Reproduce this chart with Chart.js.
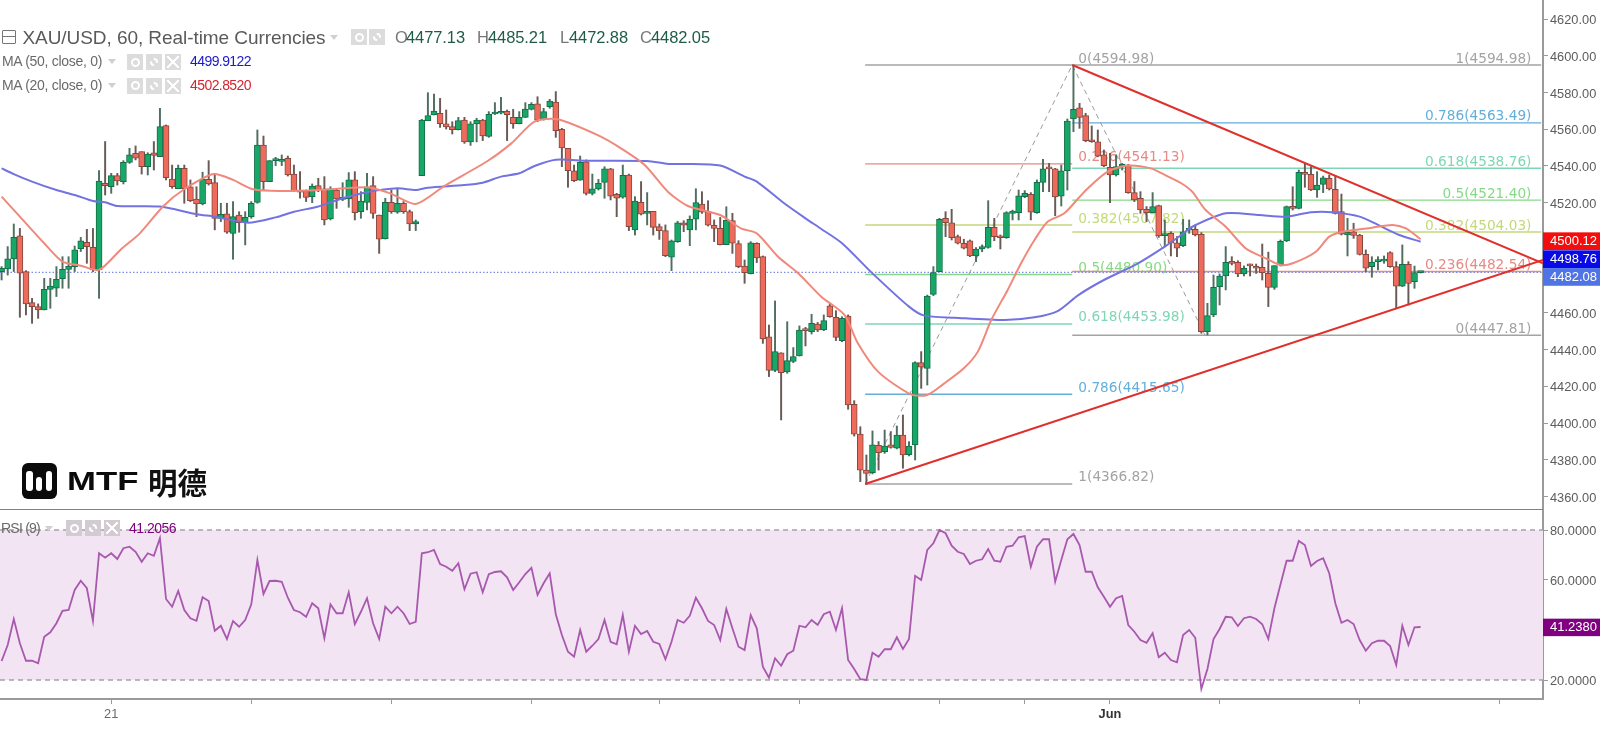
<!DOCTYPE html>
<html><head><meta charset="utf-8">
<style>
html,body{margin:0;padding:0;background:#fff;width:1600px;height:734px;overflow:hidden}
canvas{position:absolute;left:0;filter:blur(0.4px)}
.t{position:absolute;white-space:nowrap;line-height:1;transform:translateY(-50%)}
.b{position:absolute}
</style>
<script src="https://cdn.jsdelivr.net/npm/chart.js@4"></script>
</head><body>
<canvas id="main" width="1600" height="509" style="top:0"></canvas>
<canvas id="rsi" width="1600" height="225" style="top:509px"></canvas>
<script>
const opens=[4482.5,4483.9,4489.4,4501.9,4482.5,4465.6,4463.4,4461.6,4472.8,4473.4,4478.6,4483.7,4485.2,4495.0,4498.4,4495.7,4483.4,4530.6,4528.7,4534.7,4531.5,4542.0,4546.9,4547.8,4539.6,4547.2,4545.1,4562.0,4532.9,4527.6,4538.7,4528.7,4522.0,4519.3,4532.7,4530.9,4511.5,4513.9,4503.3,4513.3,4509.3,4512.4,4520.2,4551.4,4531.5,4542.9,4542.5,4544.2,4535.6,4526.4,4526.4,4523.3,4529.3,4527.5,4511.1,4526.9,4521.8,4522.0,4532.4,4515.1,4520.2,4529.3,4513.3,4500.4,4520.2,4514.8,4519.7,4515.1,4508.4,
4534.7,4564.7,4567.8,4568.7,4563.0,4561.4,4559.8,4565.0,4553.1,4562.9,4565.0,4556.1,4568.3,4568.7,4569.8,4566.5,4563.0,4566.5,4570.8,4573.8,4565.4,4572.3,4574.8,4560.0,4549.6,4537.4,4532.2,4542.3,4525.1,4527.5,4531.1,4538.5,4524.6,4523.0,4535.1,4505.2,4520.2,4514.2,4515.3,4507.0,4504.8,4490.4,4498.8,4509.1,4505.2,4511.0,4519.3,4515.3,4507.7,4506.0,4497.2,4510.2,4497.7,4485.5,4481.4,4497.9,4490.6,4446.9,4428.6,4438.3,4427.8,4433.5,4436.5,4451.0,4449.8,4453.9,4450.7,4463.8,4457.6,
4444.9,4458.3,4410.2,4394.0,4374.4,4373.0,4387.9,4384.4,4388.1,4386.3,4393.5,4382.8,4388.1,4432.9,4429.8,4470.1,4482.4,4511.5,4509.1,4501.5,4497.9,4499.3,4491.0,4494.8,4495.7,4506.6,4501.8,4500.9,4514.2,4514.6,4523.3,4524.5,4514.6,4531.1,4539.1,4538.4,4523.6,4537.4,4565.6,4571.6,4567.4,4553.8,4553.2,4546.0,4539.3,4535.1,4539.8,4540.5,4525.5,4522.4,4516.4,4514.6,4518.4,4502.1,4503.3,4498.2,
4496.6,4505.0,4505.5,4502.8,4449.8,4458.9,4474.3,4480.1,4487.7,4487.5,4481.2,4486.1,4485.2,4484.8,4481.5,4473.9,4486.1,4499.2,4517.9,4516.9,4536.0,4535.4,4526.9,4530.0,4533.3,4527.3,4515.1,4502.4,4504.2,4502.4,4491.9,4485.2,4487.9,4488.2,4492.8,4485.2,4474.6,4486.4,4477.0,4481.9];
const highs=[4485.2,4496.1,4508.4,4506.0,4483.0,4467.9,4464.9,4478.8,4478.8,4485.2,4490.6,4490.6,4496.4,4501.1,4505.5,4506.0,4537.5,4553.3,4536.0,4536.0,4542.9,4549.6,4550.9,4547.8,4547.2,4553.3,4571.4,4562.3,4540.5,4540.5,4540.5,4532.4,4528.7,4536.6,4542.9,4535.6,4519.7,4519.7,4520.6,4515.1,4515.1,4520.6,4559.6,4556.3,4542.9,4544.7,4546.0,4545.4,4540.5,4536.9,4526.9,4530.2,4533.3,4534.2,4528.7,4527.8,4530.9,4536.4,4536.9,4526.0,4536.0,4534.2,4513.3,4522.4,4526.9,4527.8,4520.6,4516.0,4510.6,
4565.4,4579.9,4579.2,4576.8,4570.5,4564.1,4566.5,4566.5,4564.1,4566.0,4565.4,4569.6,4574.5,4577.4,4570.5,4570.8,4569.6,4574.5,4574.5,4577.7,4571.4,4576.3,4580.5,4560.5,4549.6,4540.5,4545.4,4543.3,4535.6,4532.7,4539.6,4538.7,4525.1,4540.5,4535.6,4523.3,4531.5,4525.5,4515.3,4508.4,4507.9,4499.7,4509.9,4510.2,4512.8,4527.6,4526.0,4521.1,4510.6,4512.0,4517.8,4514.2,4499.3,4488.8,4498.8,4498.2,4491.0,4453.4,4466.5,4438.3,4455.2,4441.1,4452.9,4452.1,4459.2,4454.8,4458.9,4465.2,4461.2,
4457.9,4458.9,4412.2,4398.0,4382.6,4395.7,4389.9,4396.2,4395.3,4398.4,4404.4,4389.9,4433.4,4438.9,4469.7,4485.2,4511.5,4515.1,4516.4,4502.4,4500.1,4499.7,4495.5,4497.0,4521.1,4511.5,4502.4,4515.1,4516.0,4526.9,4526.6,4525.5,4532.4,4543.6,4541.4,4538.7,4540.5,4565.6,4595.0,4574.1,4568.7,4561.8,4559.6,4548.7,4546.9,4546.0,4541.4,4540.9,4531.5,4526.0,4517.9,4525.5,4518.7,4510.6,4504.2,4501.5,
4510.9,4510.6,4507.9,4503.7,4465.2,4480.6,4481.2,4496.1,4490.6,4488.4,4485.6,4486.6,4486.6,4497.5,4493.1,4485.7,4499.7,4518.2,4528.7,4537.8,4541.4,4539.6,4536.9,4534.5,4535.1,4534.5,4524.7,4511.5,4508.8,4502.8,4494.3,4490.6,4490.6,4491.0,4493.3,4487.9,4497.0,4487.9,4485.5,4482.5];
const lows=[4477.9,4480.6,4482.5,4457.6,4458.9,4454.3,4457.0,4461.6,4462.5,4468.9,4473.4,4473.4,4482.5,4493.4,4487.0,4482.5,4467.9,4524.2,4525.1,4529.6,4530.2,4541.4,4543.3,4535.6,4535.1,4537.8,4545.1,4532.4,4527.8,4527.6,4519.7,4520.6,4512.4,4518.8,4529.6,4505.2,4509.7,4503.3,4489.2,4503.9,4497.0,4511.5,4519.7,4526.9,4531.5,4540.2,4540.2,4534.5,4526.0,4522.4,4520.6,4520.0,4526.0,4507.9,4510.6,4516.9,4521.1,4517.5,4510.6,4511.5,4516.0,4511.5,4492.4,4500.2,4514.2,4514.2,4514.2,4504.8,4504.8,
4534.7,4564.7,4567.8,4561.0,4560.1,4557.4,4559.6,4552.3,4551.2,4553.1,4553.8,4555.6,4568.0,4568.3,4553.8,4560.5,4562.9,4566.3,4570.5,4564.1,4565.0,4571.4,4555.6,4539.6,4528.4,4531.5,4532.2,4524.2,4524.2,4526.9,4522.4,4521.5,4512.4,4522.4,4504.8,4502.4,4513.3,4507.9,4502.4,4500.0,4490.6,4483.0,4498.4,4504.2,4496.6,4505.2,4514.2,4507.3,4498.8,4497.0,4497.2,4492.4,4484.6,4476.1,4481.2,4487.4,4443.4,4425.3,4428.0,4401.7,4427.1,4432.9,4436.5,4442.0,4448.5,4449.8,4450.3,4457.6,4444.9,
4444.3,4407.5,4392.9,4368.1,4366.7,4372.3,4374.4,4383.5,4386.3,4385.9,4375.4,4382.1,4379.9,4418.9,4420.7,4469.4,4482.4,4501.5,4499.7,4497.5,4494.8,4490.6,4487.9,4493.3,4495.2,4499.3,4494.8,4500.6,4510.6,4510.6,4522.7,4510.6,4514.2,4526.0,4526.0,4512.9,4518.2,4526.9,4558.7,4560.5,4553.2,4552.9,4545.0,4539.6,4520.0,4534.5,4537.8,4525.1,4520.6,4514.2,4509.7,4514.6,4501.1,4496.1,4491.0,4490.6,
4496.1,4503.3,4501.9,4448.9,4448.0,4457.9,4464.3,4472.5,4486.1,4479.7,4480.1,4480.1,4481.5,4477.9,4463.4,4472.8,4485.5,4498.8,4516.0,4516.6,4528.4,4526.6,4522.9,4525.5,4526.9,4513.8,4502.4,4491.0,4500.6,4491.5,4482.5,4479.4,4483.4,4487.0,4484.8,4462.5,4474.3,4464.3,4473.4,4481.7];
const closes=[4484.3,4489.4,4501.1,4481.6,4464.9,4463.4,4461.6,4472.8,4474.6,4478.3,4483.7,4485.5,4494.3,4499.3,4496.1,4483.4,4531.8,4529.3,4534.7,4531.8,4542.0,4546.0,4544.2,4539.6,4546.5,4545.8,4561.4,4533.6,4528.7,4538.7,4527.6,4521.1,4519.3,4532.9,4530.2,4511.5,4513.7,4503.9,4512.4,4509.1,4512.0,4519.7,4551.4,4531.5,4542.9,4543.6,4543.3,4535.1,4526.6,4525.7,4522.9,4529.1,4526.9,4510.6,4527.5,4522.0,4522.6,4532.4,4514.6,4520.9,4528.7,4514.2,4500.2,4520.2,4515.1,4519.7,4515.1,4508.4,4509.7,
4565.0,4567.4,4569.9,4563.0,4561.2,4559.8,4564.7,4553.1,4562.9,4565.0,4556.3,4568.1,4569.0,4569.4,4568.0,4563.0,4566.5,4571.0,4573.6,4565.0,4569.6,4575.4,4559.2,4549.8,4537.4,4532.0,4542.0,4525.1,4527.5,4530.6,4538.5,4523.6,4522.4,4534.9,4507.0,4520.9,4513.8,4514.9,4506.6,4504.8,4491.2,4499.2,4509.1,4507.7,4511.0,4520.0,4514.8,4507.7,4506.0,4497.2,4510.4,4497.9,4485.2,4481.9,4498.2,4489.9,4445.8,4428.6,4438.9,4427.5,4434.0,4436.2,4450.7,4450.3,4454.3,4450.7,4455.8,4458.0,4446.7,
4457.0,4409.9,4394.0,4374.4,4372.6,4388.1,4383.9,4387.5,4386.8,4393.5,4382.6,4387.5,4432.9,4430.4,4469.2,4481.9,4510.9,4509.1,4500.9,4497.9,4495.3,4491.0,4494.8,4496.1,4506.6,4501.5,4500.9,4514.6,4515.5,4523.8,4525.1,4514.9,4531.1,4538.4,4538.4,4523.1,4537.4,4564.5,4570.8,4566.5,4553.8,4553.2,4545.4,4540.2,4535.1,4539.6,4540.4,4525.5,4521.5,4516.0,4514.6,4517.9,4501.9,4502.8,4497.9,4495.2,
4504.2,4506.0,4502.4,4449.8,4458.5,4473.9,4480.1,4487.5,4487.0,4481.2,4484.3,4485.6,4484.3,4481.9,4473.9,4485.7,4499.0,4517.9,4516.9,4536.5,4535.4,4526.9,4529.6,4533.6,4527.5,4514.2,4502.8,4503.9,4502.2,4491.9,4484.3,4487.7,4488.2,4488.6,4485.2,4474.6,4486.4,4476.1,4481.9,4482.08];
const ma50Index=[0,2,5,9,12,15,17,19,26,32,35,40.5,45,48,52,56,60,65,68,70,76,79,82,85,87.5,91,96,106,109.5,112,118,122,124,128.5,132,134.6,138,143,149,151.5,156.5,164.7,169.6,173.4,176.8,181,186.6,191,193.7,195.5,201,206.5,211,215,218.5,223,226,229.5,233];
const ma50Values=[4538.7,4535.6,4531.5,4526.9,4524.2,4520.9,4520.2,4518.2,4517.9,4513.7,4512.4,4509.1,4512.0,4515.1,4517.9,4522.4,4525.7,4527.8,4526.9,4528.2,4529.6,4530.9,4534.2,4536.0,4540.0,4543.4,4542.9,4542.7,4541.1,4541.1,4540.2,4534.2,4531.5,4519.7,4511.5,4505.7,4497.9,4481.5,4463.4,4458.5,4457.4,4456.1,4457.6,4461.0,4469.7,4477.9,4487.0,4496.1,4502.4,4506.9,4514.2,4513.3,4512.4,4514.8,4514.8,4512.4,4507.9,4502.4,4498.76];
const ma20Index=[0,3,7,10,13,16,19.5,22.7,26.5,29.8,34.8,38,41.3,46,52,60,63.8,68,72.7,79.8,83.7,87.5,91.3,98.4,101.7,105.6,109.4,112.7,118,121.4,124,127.5,130.8,134.6,138.4,140.6,143.9,149.3,152,154.8,158,160.3,162.5,165.2,167.4,169.6,171.8,174.5,177.8,181.6,184.9,188.7,191,193.7,195.5,197.7,201,204.3,207.6,210,212,215.8,218,220.2,225,228.4,230.6,233];
const ma20Values=[4523.3,4512.4,4497.9,4487.9,4485.7,4483.4,4494.3,4503.3,4517.9,4526.9,4535.6,4532.4,4527.3,4526.4,4526.9,4528.4,4525.1,4519.3,4529.1,4542.7,4552.3,4564.1,4565.4,4556.0,4549.6,4540.5,4526.0,4518.2,4513.3,4506.0,4503.3,4490.6,4481.6,4468.8,4458.9,4443.4,4428.0,4415.6,4415.3,4421.6,4429.8,4438.9,4456.1,4472.5,4487.0,4499.7,4509.7,4514.2,4526.0,4536.9,4540.2,4538.7,4535.1,4530.6,4526.0,4516.0,4506.9,4495.1,4489.7,4486.1,4487.0,4493.3,4501.5,4504.2,4506.4,4507.9,4506.0,4500.12];
const rsiValues=[27.6,34.0,44.4,34.7,27.7,27.7,26.7,37.3,39.1,42.7,47.7,48.0,56.0,59.7,56.7,43.6,70.7,68.9,70.7,68.4,72.7,73.3,71.3,67.3,70.7,69.7,76.7,52.4,49.3,55.6,48.0,44.7,43.7,53.1,51.6,39.7,41.7,36.4,43.6,41.3,44.0,50.3,68.0,54.4,59.6,59.7,59.3,52.9,48.0,47.1,45.3,50.7,48.7,36.7,50.3,46.7,46.7,55.1,42.3,47.3,52.7,42.7,36.4,49.3,46.7,49.3,46.7,42.4,43.3,
70.7,71.1,72.0,66.4,65.3,63.7,66.7,56.3,62.5,63.1,55.1,62.3,63.2,63.5,61.1,56.0,59.1,62.4,64.9,54.0,58.7,62.7,46.3,38.0,31.3,29.3,40.0,31.3,33.7,36.4,44.0,35.3,34.3,46.0,31.3,41.7,38.4,39.6,35.3,34.4,28.3,35.3,44.0,42.9,45.7,52.9,48.7,43.6,42.0,36.0,48.4,40.7,33.3,32.0,46.0,40.7,25.3,20.9,28.7,25.7,30.3,31.7,41.7,
41.1,44.0,42.0,46.3,47.3,40.0,48.7,28.0,24.4,20.3,20.0,30.9,29.3,32.3,32.3,37.1,32.4,36.4,61.7,60.0,72.0,74.7,80.0,78.7,73.7,71.3,70.4,66.4,67.7,68.3,72.4,67.7,67.3,73.3,73.7,77.1,77.6,65.3,73.3,76.3,76.3,59.3,68.0,76.3,78.4,74.0,63.3,63.3,57.1,53.3,49.3,52.7,53.6,42.0,39.3,36.0,34.9,38.7,29.1,30.9,28.0,27.1,38.0,40.0,36.9,16.4,24.4,36.4,40.4,45.3,45.1,41.6,44.7,45.3,44.4,42.3,36.4,48.7,58.3,67.7,67.7,75.6,74.0,65.6,67.6,68.7,62.7,50.7,42.9,44.0,42.4,36.0,31.7,34.7,35.7,35.7,33.6,26.0,41.7,34.0,41.1,41.2];
const priceTicks=[4360,4380,4400,4420,4440,4460,4480,4500,4520,4540,4560,4580,4600,4620];
const rsiTicks=[20,60,80];
const timeTicks=[18,41,64,87,108,131,154,168,182,200,223,246];
const timeLabels={18:'21',182:'Jun'};
const fibLeftRatios=['0','0.236','0.382','0.5','0.618','0.786','1'];
const fibLeftPrices=[4594.98,4541.13,4507.82,4480.90,4453.98,4415.65,4366.82];
const fibRightRatios=['1','0.786','0.618','0.5','0.382','0.236','0'];
const fibRightPrices=[4594.98,4563.49,4538.76,4521.40,4504.03,4482.54,4447.81];
const fibColors=['#a3a3a3','#e58a84','#c3d97c','#86da86','#7fd6b4','#62aedc','#a3a3a3'];
const fibRightColors=['#a3a3a3','#62aedc','#7fd6b4','#86da86','#c3d97c','#e58a84','#a3a3a3'];
const swingIndex=[141.8,175.8,197.6];
const swingPrices=[4366.82,4594.98,4447.81];
const triLowerIndex=[141.8,253.1];
const triLowerPrices=[4366.82,4488.8];
const triUpperIndex=[175.8,253.1];
const triUpperPrices=[4594.98,4487.0];
const lastPrice=4482.08;
const axisBoxes=[{v:4500.12,t:'4500.12',c:'#f40d0d',o:2},{v:4498.76,t:'4498.76',c:'#0a0ae6',o:17.5},{v:4482.08,t:'4482.08',c:'#4f74e6',o:4.6}];

const Xmin=-0.263, Xmax=253.1, AXW=57;
const pts=(xs,ys)=>xs.map((x,i)=>({x,y:ys[i]}));
const N=closes.length;
const up=i=>closes[i]>=opens[i];
const seg=(a,b,p,color,w,dash,order)=>({type:'line',data:[{x:a,y:p},{x:b,y:p}],borderColor:color,borderWidth:w,borderDash:dash||[],pointRadius:0,order,parsing:true});

const fibDatasets=[];
fibLeftPrices.forEach((p,i)=>fibDatasets.push(seg(141.8,175.8,p,fibColors[i],1.4,null,20)));
fibRightPrices.forEach((p,i)=>fibDatasets.push(seg(175.8,252.8,p,fibRightColors[i],1.4,null,20)));

const drawLabels={id:'fibLabels',beforeDatasetsDraw(c){
  const {ctx,scales:{x,y}}=c;ctx.save();
  ctx.font='13.7px "DejaVu Sans"';ctx.textBaseline='alphabetic';
  ctx.textAlign='left';
  fibLeftPrices.forEach((p,i)=>{ctx.fillStyle=fibColors[i];ctx.fillText(fibLeftRatios[i]+'('+p.toFixed(2)+')',x.getPixelForValue(176.8),y.getPixelForValue(p)-2.5);});
  ctx.textAlign='right';
  fibRightPrices.forEach((p,i)=>{ctx.fillStyle=fibRightColors[i];ctx.fillText(fibRightRatios[i]+'('+p.toFixed(2)+')',x.getPixelForValue(251.2),y.getPixelForValue(p)-2.5);});
  ctx.restore();
}};
const box=(ctx,x0,yc,w,h,c,t)=>{ctx.fillStyle=c;ctx.fillRect(x0,yc-h/2,w,h);ctx.fillStyle='#fff';ctx.font='13px "Liberation Sans"';ctx.textAlign='left';ctx.textBaseline='middle';ctx.fillText(t,x0+7,yc+0.5);};
const drawBoxes={id:'boxes',afterDraw(c){
  const {ctx,scales:{y},chartArea:a}=c;ctx.save();
  axisBoxes.forEach(b=>box(ctx,a.right,y.getPixelForValue(b.v)+b.o,1600-a.right,17.7,b.c,b.t));
  ctx.restore();
}};
const drawRsiBox={id:'rsiBox',afterDraw(c){
  const {ctx,scales:{y},chartArea:a}=c;ctx.save();
  box(ctx,a.right,y.getPixelForValue(41.238)+0.5,1600-a.right,17.5,'#800080','41.2380');
  ctx.restore();
}};
const yScale=(min,max,ticks,fmt)=>({position:'right',min,max,
  afterBuildTicks(s){s.ticks=ticks.map(v=>({value:v}));},
  afterFit(s){s.width=AXW;s.paddingTop=0;s.paddingBottom=0;},
  grid:{drawOnChartArea:false,drawTicks:true,tickLength:5,color:'#9a9a9a'},
  border:{display:true,color:'#9a9a9a',width:2},
  ticks:{callback:v=>['',v.toFixed(fmt)],color:'#5c5c5c',font:{family:'"Liberation Sans"',size:12.8,lineHeight:'3px'},padding:2}});

new Chart(document.getElementById('main'),{
  type:'line',
  data:{datasets:[
    ...fibDatasets,
    {type:'line',data:[{x:Xmin,y:lastPrice},{x:Xmax,y:lastPrice}],borderColor:'#7d8de6',borderWidth:1.2,borderDash:[1.5,2],pointRadius:0,order:19},
    {type:'line',data:pts(swingIndex,swingPrices),borderColor:'#9a9a9a',borderWidth:1,borderDash:[5,4],pointRadius:0,order:18},
    {type:'bar',data:highs.map((h,i)=>({x:i,y:[lows[i],h]})),backgroundColor:opens.map((o,i)=>up(i)?'#4f6f60':'#6a5a55'),barThickness:1.3,grouped:false,order:10},
    {type:'bar',data:opens.map((o,i)=>({x:i,y:[o,closes[i]]})),backgroundColor:opens.map((o,i)=>up(i)?'#17a868':'#ee6b5c'),borderColor:opens.map((o,i)=>up(i)?'#136f49':'#86483f'),borderWidth:1,borderSkipped:false,barThickness:6,minBarLength:2,grouped:false,order:9},
    {type:'line',data:pts(ma50Index,ma50Values),borderColor:'#7272e2',borderWidth:2,pointRadius:0,tension:0.25,order:5},
    {type:'line',data:pts(ma20Index,ma20Values),borderColor:'#f0897c',borderWidth:2,pointRadius:0,tension:0.25,order:4},
    {type:'line',data:pts(triLowerIndex,triLowerPrices),borderColor:'#e0302c',borderWidth:2,pointRadius:0,order:2},
    {type:'line',data:pts(triUpperIndex,triUpperPrices),borderColor:'#e0302c',borderWidth:2,pointRadius:0,order:2}
  ]},
  options:{responsive:false,animation:false,devicePixelRatio:1,layout:{padding:0},
    plugins:{legend:{display:false},tooltip:{enabled:false}},
    scales:{
      x:{type:'linear',min:Xmin,max:Xmax,display:false,offset:false},
      y:yScale(4353.2,4630.38,priceTicks,2)
    }},
  plugins:[drawLabels,drawBoxes]
});

new Chart(document.getElementById('rsi'),{
  type:'line',
  data:{datasets:[
    {data:[{x:Xmin,y:80},{x:Xmax,y:80}],borderColor:'#a8a0a8',borderWidth:1.3,borderDash:[5,4],pointRadius:0,fill:{value:20},backgroundColor:'#f2e4f2',order:5},
    {data:[{x:Xmin,y:20},{x:Xmax,y:20}],borderColor:'#a8a0a8',borderWidth:1.3,borderDash:[5,4],pointRadius:0,order:4},
    {data:rsiValues.map((v,i)=>({x:i,y:v})),borderColor:'#a858ae',borderWidth:1.8,pointRadius:0,order:1}
  ]},
  options:{responsive:false,animation:false,devicePixelRatio:1,layout:{padding:0},
    plugins:{legend:{display:false},tooltip:{enabled:false}},
    scales:{
      x:{type:'linear',min:Xmin,max:Xmax,offset:false,
        afterBuildTicks(s){s.ticks=timeTicks.map(v=>({value:v}));},
        afterFit(s){s.height=35;s.paddingLeft=0;s.paddingRight=0;},
        grid:{drawOnChartArea:false,drawTicks:true,tickLength:5,color:'#9a9a9a'},
        border:{display:true,color:'#9a9a9a',width:2},
        ticks:{autoSkip:false,maxRotation:0,padding:3,callback:v=>timeLabels[v]||'',
          color:c=>c.tick&&timeLabels[c.tick.value]==='Jun'?'#333':'#6a6a6a',
          font:c=>({family:'"Liberation Sans"',size:12.8,weight:c.tick&&timeLabels[c.tick.value]==='Jun'?'bold':'normal'})}},
      y:yScale(12.4,88.4,rsiTicks,4)
    }},
  plugins:[drawRsiBox]
});

/* header and logo as real text */
function put(txt,x,y,font,color,w){
  const s=document.createElement('span');s.className='t';s.textContent=txt;
  s.style.left=x+'px';s.style.top=y+'px';s.style.font=font;s.style.lineHeight='1';s.style.color=color;
  document.body.appendChild(s);
  if(w){const m=s.getBoundingClientRect().width;s.style.letterSpacing=((w-m)/txt.length)+'px';}
  return s;
}
function tri(x,y){const d=document.createElement('div');d.className='b';d.style.cssText+=`left:${x}px;top:${y}px;width:0;height:0;border-left:4.5px solid transparent;border-right:4.5px solid transparent;border-top:5px solid #d0d0d0`;document.body.appendChild(d);}
function ico(x,y,kind,sz,col){
  const d=document.createElement('div');d.className='b';
  d.style.cssText+=`left:${x}px;top:${y}px;width:${sz}px;height:${sz}px;background:${col||'#dcdcdc'}`;
  const g=document.createElement('div');g.className='b';
  const c=sz/2;
  if(kind==='x'){g.style.cssText+=`left:2px;top:2px;width:${sz-4}px;height:${sz-4}px;background:linear-gradient(45deg,transparent 44%,#fff 44%,#fff 56%,transparent 56%),linear-gradient(-45deg,transparent 44%,#fff 44%,#fff 56%,transparent 56%)`;}
  else if(kind==='eye'){g.style.cssText+=`left:${c-4.5}px;top:${c-4.5}px;width:5px;height:5px;border:2px solid #fff;border-radius:50%`;}
  else{g.style.cssText+=`left:${c-4}px;top:${c-4}px;width:4px;height:4px;border:2px dashed #fff;border-radius:50%`;}
  d.appendChild(g);document.body.appendChild(d);
}
const F='"Liberation Sans"';
/* collapse box */
(()=>{const d=document.createElement('div');d.className='b';d.style.cssText+='left:2px;top:30px;width:12px;height:12px;border:1.4px solid #777;border-radius:1px;background:linear-gradient(#777,#777) center/100% 1.4px no-repeat';document.body.appendChild(d);})();
put('XAU/USD, 60, Real-time Currencies',22.5,37,`19px ${F}`,'#5a5a5a',303);
tri(330,35);ico(351,29,'eye',16);ico(369,29,'gear',16);
const dk='#1f5c46',lt='#777';
[['O','4477.13',395],['H','4485.21',477],['L','4472.88',560],['C','4482.05',640]].forEach(r=>{
  put(r[0],r[2],37,`16.5px ${F}`,lt,11);
  put(r[1],r[2]+(r[0]==='L'?9:11),37,`16.5px ${F}`,dk,59);
});
put('MA (50, close, 0)',2,61,`14px ${F}`,'#6a6a6a',100);tri(108,59);
ico(127,54,'eye',16);ico(146,54,'gear',16);ico(165,54,'x',16);
put('4499.9122',190,61,`14px ${F}`,'#1a1ac8',61);
put('MA (20, close, 0)',2,84.5,`14px ${F}`,'#6a6a6a',100);tri(108,82.5);
ico(127,77.5,'eye',16);ico(146,77.5,'gear',16);ico(165,77.5,'x',16);
put('4502.8520',190,84.5,`14px ${F}`,'#d8242e',61);
put('RSI (9)',1,528,`14px ${F}`,'#6a6a6a',39);tri(45,526);
ico(66,520,'eye',16,'#d2ccd2');ico(85,520,'gear',16,'#d2ccd2');ico(104,520,'x',16,'#d2ccd2');
put('41.2056',129,528,`14px ${F}`,'#800080',47);
/* separator between panes */
(()=>{const d=document.createElement('div');d.className='b';d.style.cssText+='left:0;top:509px;width:1543px;height:1.3px;background:#808080';document.body.appendChild(d);})();
/* logo */
(()=>{const d=document.createElement('div');d.className='b';d.style.cssText+='left:21.5px;top:462.5px;width:35px;height:36px;background:#0b0b0b;border-radius:6px';
 [[4.5,8,6.5,20],[14,14,6,14],[24,8,6.5,20]].forEach(b=>{const e=document.createElement('div');e.className='b';e.style.cssText+=`left:${b[0]}px;top:${b[1]}px;width:${b[2]}px;height:${b[3]}px;background:#fff;border-radius:3px`;d.appendChild(e);});
 document.body.appendChild(d);
 const s=put('MTF',67,481,`bold 25px ${F}`,'#0b0b0b');
 s.style.transformOrigin='0 50%';s.style.transform='translateY(-50%) scaleX(1.39)';
 put('明德',148,481.5,'bold 29.5px "Noto Sans CJK SC"','#111');
})();
</script>
</body></html>
